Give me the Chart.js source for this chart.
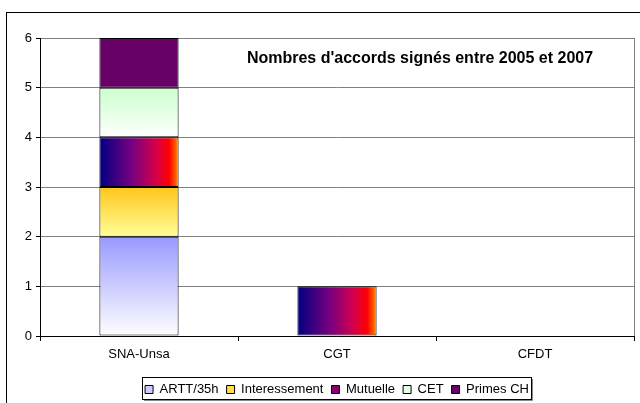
<!DOCTYPE html>
<html>
<head>
<meta charset="utf-8">
<script src="https://cdn.jsdelivr.net/npm/chart.js@4.4.1/dist/chart.umd.min.js"></script>
<style>
  html, body { margin: 0; padding: 0; background: #fff; }
  #wrap { width: 640px; height: 403px; position: relative; }
</style>
</head>
<body>
<div id="wrap"><canvas id="accordsChart"></canvas></div>
<script>
// Data
const syndicats = ['SNA-Unsa', 'CGT', 'CFDT'];
const artt = [2, 0, 0];
const interessement = [1, 0, 0];
const mutuelle = [1, 1, 0];
const cet = [1, 0, 0];
const primesCH = [1, 0, 0];
const yTicks = [0, 1, 2, 3, 4, 5, 6];
const chartTitle = "Nombres d'accords signés entre 2005 et 2007";

const font = "'Liberation Sans', Arial, sans-serif";

// vertical gradient for one bar segment (top colour -> bottom colour)
function vGradient(topColor, bottomColor) {
    return (context) => {
        const chart = context.chart;
        const y = chart.scales.y;
        if (!y || context.type !== 'data') return topColor;
        const ds = chart.data.datasets;
        let base = 0;
        for (let i = 0; i < context.datasetIndex; i++) base += ds[i].data[context.dataIndex] || 0;
        const val = ds[context.datasetIndex].data[context.dataIndex] || 0;
        const yTop = y.getPixelForValue(base + val);
        const yBot = y.getPixelForValue(base);
        if (!isFinite(yTop) || !isFinite(yBot) || yTop === yBot) return topColor;
        const g = chart.ctx.createLinearGradient(0, yTop, 0, yBot);
        g.addColorStop(0, topColor);
        g.addColorStop(1, bottomColor);
        return g;
    };
}

// horizontal "fire" gradient used by Mutuelle
function fireGradient(ctx, x0, x1) {
    const g = ctx.createLinearGradient(x0, 0, x1, 0);
    g.addColorStop(0, '#000080');
    g.addColorStop(0.42, '#7a0080');
    g.addColorStop(0.72, '#d8004a');
    g.addColorStop(0.88, '#ff0000');
    g.addColorStop(0.96, '#ff5a00');
    g.addColorStop(1, '#ffb000');
    return g;
}

function hGradient(context) {
    const chart = context.chart;
    const x = chart.scales.x;
    if (!x || context.type !== 'data') return '#800080';
    const w = x.width / syndicats.length * 0.4;
    const cx = x.getPixelForValue(context.dataIndex);
    if (!isFinite(cx)) return '#800080';
    return fireGradient(chart.ctx, cx - w / 2, cx + w / 2);
}

const series = [
    { label: 'ARTT/35h', data: artt, bg: vGradient('#9999ff', '#ffffff'), legendColor: '#ccccff' },
    { label: 'Interessement', data: interessement, bg: vGradient('#ffc61a', '#ffff99'), legendColor: '#ffdd44' },
    { label: 'Mutuelle', data: mutuelle, bg: hGradient, legendColor: '#8a0070' },
    { label: 'CET', data: cet, bg: vGradient('#ccffcc', '#ffffff'), legendColor: '#e6ffe6' },
    { label: 'Primes CH', data: primesCH, bg: '#660066', legendColor: '#660066' }
];

// frame, plot border, title and legend box
const decorations = {
    id: 'decorations',
    beforeDraw(chart) {
        const ctx = chart.ctx;
        const a = chart.chartArea;
        ctx.save();
        ctx.strokeStyle = '#000';
        ctx.lineWidth = 1;
        ctx.strokeRect(6.5, 12.5, 700, 500);
        ctx.strokeStyle = '#808080';
        ctx.strokeRect(Math.round(a.left) + 0.5, Math.round(a.top) + 0.5, Math.round(a.right - a.left), Math.round(a.bottom - a.top));
        ctx.restore();
    },
    afterDraw(chart) {
        const ctx = chart.ctx;
        const a = chart.chartArea;
        ctx.save();
        ctx.fillStyle = '#000';
        ctx.font = 'bold 16px ' + font;
        ctx.textAlign = 'center';
        ctx.textBaseline = 'middle';
        ctx.fillText(chartTitle, 420, a.top + 21);
        ctx.strokeStyle = '#000';
        ctx.lineWidth = 1;
        ctx.strokeRect(142.5, 377.5, 389, 22);
        ctx.strokeStyle = '#888';
        ctx.beginPath();
        ctx.moveTo(144, 400.5); ctx.lineTo(532.5, 400.5); ctx.lineTo(532.5, 379);
        ctx.stroke();
        ctx.restore();
    }
};

new Chart(document.getElementById('accordsChart'), {
    type: 'bar',
    data: {
        labels: syndicats,
        datasets: series.map(s => ({
            label: s.label,
            data: s.data.map(v => v || null),
            backgroundColor: s.bg,
            borderColor: '#000',
            borderWidth: 1,
            borderSkipped: false,
            barPercentage: 0.4,
            categoryPercentage: 1
        }))
    },
    plugins: [decorations],
    options: {
        responsive: true,
        maintainAspectRatio: false,
        animation: false,
        layout: { padding: { left: 0, top: 38, right: 6, bottom: -3 } },
        plugins: {
            tooltip: { enabled: false },
            title: { display: false },
            legend: {
                position: 'bottom',
                fullSize: false,
                labels: {
                    color: '#000',
                    boxWidth: 8,
                    boxHeight: 8,
                    padding: 8,
                    font: { family: font, size: 13 },
                    generateLabels: (chart) => series.map((s, i) => ({
                        text: s.label,
                        fillStyle: s.legendColor,
                        strokeStyle: '#000',
                        lineWidth: 1,
                        hidden: false,
                        datasetIndex: i
                    }))
                }
            }
        },
        scales: {
            x: {
                stacked: true,
                grid: { offset: true, drawOnChartArea: false, drawTicks: true, tickLength: 5, color: '#000' },
                border: { color: '#000' },
                ticks: { color: '#000', padding: 6, font: { family: font, size: 13 } },
                afterFit: (scale) => { scale.height = 39; }
            },
            y: {
                stacked: true,
                min: 0,
                max: 6,
                afterBuildTicks: (scale) => { scale.ticks = yTicks.map(v => ({ value: v })); },
                grid: { color: '#808080', tickColor: '#000', tickLength: 4 },
                border: { color: '#000' },
                ticks: { color: '#000', padding: 4, font: { family: font, size: 13 } },
                afterFit: (scale) => { scale.width = 40; }
            }
        }
    }
});
</script>
</body>
</html>
